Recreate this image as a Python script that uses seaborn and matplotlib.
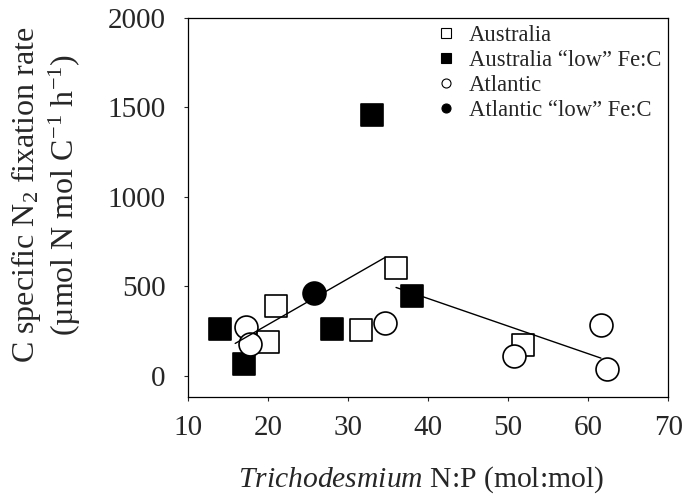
import numpy as np
import pandas as pd
import seaborn as sns
import matplotlib.pyplot as plt
from matplotlib.lines import Line2D

# data
aus_np = [21.0, 20.0, 31.6, 36.0, 51.9]
aus_rate = [389, 187, 253, 603, 169]

aus_low_np = [14.0, 17.0, 33.0, 28.0, 38.0]
aus_low_rate = [258, 66, 1457, 258, 444]

atl_np = [17.25, 17.75, 34.6, 50.7, 61.6, 62.3]
atl_rate = [272, 178, 296, 112, 281, 37]

atl_low_np = [25.8]
atl_low_rate = [464]

# fitted lines (end points)
fit1_np = [15.9, 34.6]
fit1_rate = [180, 660]
fit2_np = [36.0, 61.6]
fit2_rate = [493, 98]

sns.set_theme(style="ticks")
plt.rcParams['font.family'] = ['Liberation Serif', 'DejaVu Serif']
plt.rcParams['mathtext.fontset'] = 'custom'
plt.rcParams['mathtext.rm'] = 'Liberation Serif'
plt.rcParams['mathtext.it'] = 'Liberation Serif:italic'

fig = plt.figure(figsize=(6.86, 4.97), dpi=100)
ax = fig.add_axes([0.274, 0.201, 0.7, 0.763])

groups = [
    (aus_np, aus_rate, "Australia", "s", "white", 15.5),
    (aus_low_np, aus_low_rate, "Australia \u201clow\u201d Fe:C", "s", "black", 15.5),
    (atl_np, atl_rate, "Atlantic", "o", "white", 16.5),
    (atl_low_np, atl_low_rate, "Atlantic \u201clow\u201d Fe:C", "o", "black", 16.5),
]

for xs, ys, name, mk, fc, ms in groups:
    df = pd.DataFrame({"np": xs, "rate": ys})
    sns.scatterplot(data=df, x="np", y="rate", ax=ax, marker=mk, color=fc,
                    edgecolor="black", linewidth=1.2, s=ms ** 2, zorder=3)

for xs, ys in [(fit1_np, fit1_rate), (fit2_np, fit2_rate)]:
    ax.plot(xs, ys, color="black", lw=1.0, zorder=4)

handles = [Line2D([], [], ls="none", marker=mk, markerfacecolor=fc, markeredgecolor="black",
                  markeredgewidth=0.8, markersize=6.5, label=name)
           for _, _, name, mk, fc, _ in groups]
ax.legend(handles=handles, loc="upper right", frameon=False, fontsize=16.3,
          handletextpad=0.5, labelspacing=0.18, borderaxespad=0.0, handlelength=1.0,
          borderpad=0.3)

ax.set_xlim(10, 70)
ax.set_ylim(-120, 2000)
ax.set_xticks([10, 20, 30, 40, 50, 60, 70])
ax.set_yticks([0, 500, 1000, 1500, 2000])
ax.tick_params(axis="both", labelsize=21, direction="out", length=3, width=0.8)
ax.tick_params(axis="y", pad=13)
ax.tick_params(axis="x", pad=10)
for sp in ax.spines.values():
    sp.set_linewidth(0.9)
    sp.set_color("black")

ax.set_xlabel(r"$\it{Trichodesmium}$ N:P (mol:mol)", fontsize=21.3)
ax.xaxis.set_label_coords(0.486, -0.178)
ax.set_ylabel("C specific N$_2$ fixation rate\n(\u00b5mol N mol C$^{-1}$ h$^{-1}$)",
              fontsize=23, linespacing=1.15)
ax.yaxis.set_label_coords(-0.218, 0.533)

fig.savefig("out.png", dpi=100)
